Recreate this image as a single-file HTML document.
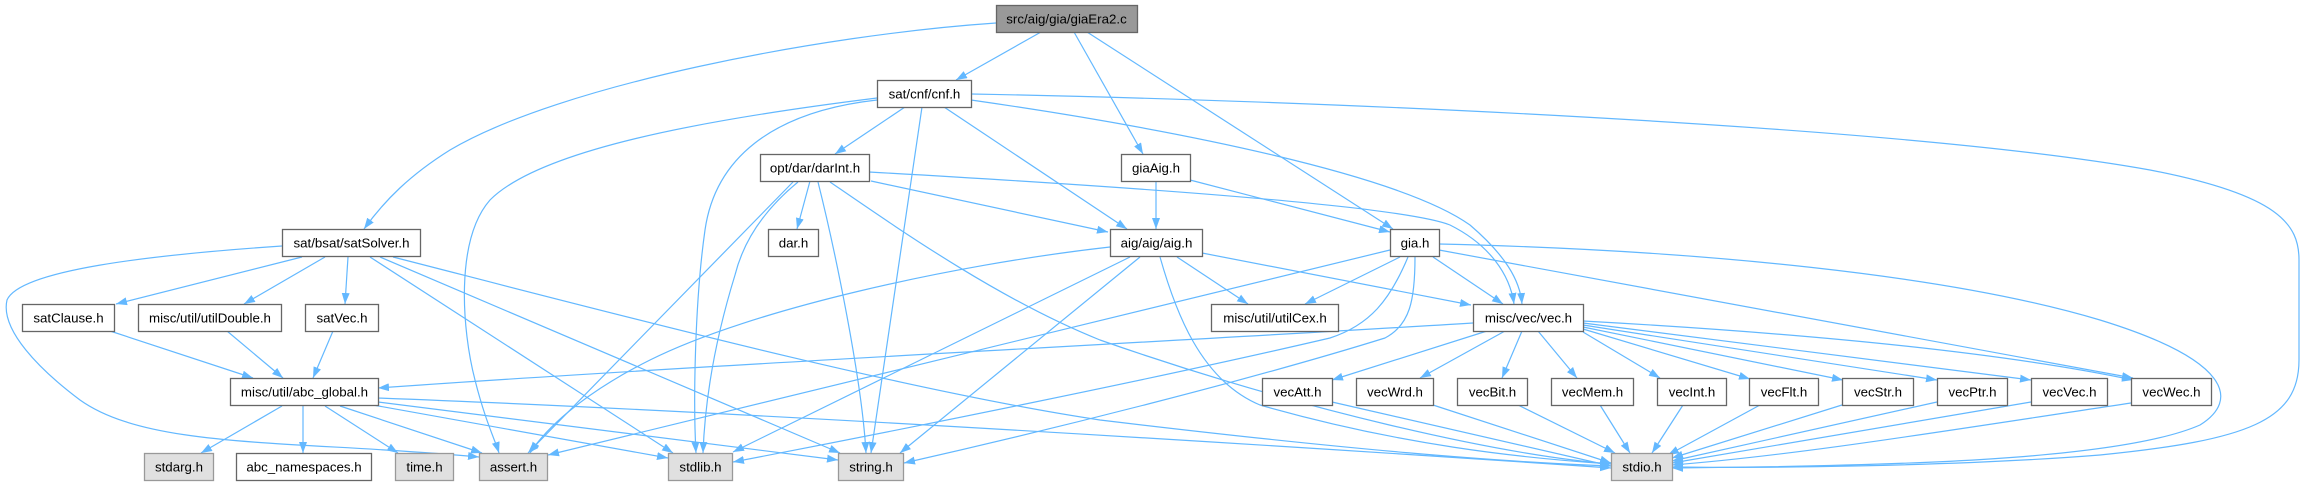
<!DOCTYPE html>
<html><head><meta charset="utf-8"><style>
html,body{margin:0;padding:0;background:#fff;}
svg{display:block;}
text{font-family:"Liberation Sans",Arial,sans-serif;font-size:13.3px;fill:#000;text-anchor:middle;}
.e{fill:none;stroke:#63b8ff;stroke-width:1.2;marker-end:url(#a);}
.n{fill:#fff;stroke:#666;stroke-width:1.3;}
.g{fill:#e0e0e0;stroke:#999;stroke-width:1.3;}
.r{fill:#999;stroke:#666;stroke-width:1.3;}
</style></head><body>
<svg width="2304" height="485" viewBox="0 0 2304 485" xmlns="http://www.w3.org/2000/svg">
<defs><marker id="a" markerUnits="userSpaceOnUse" markerWidth="12" markerHeight="9" refX="11" refY="4" orient="auto"><path d="M0,0 L11,4 L0,8 z" fill="#63b8ff"/></marker></defs>
<g>
<path class="e" d="M996,23 C820,35 560,85 450,150 C410,175 385,200 364,229"/>
<path class="e" d="M1041,32 L956,80"/>
<path class="e" d="M1074,32 L1143,154"/>
<path class="e" d="M1087,32 L1393,229"/>
<path class="e" d="M1156,181 L1156,229"/>
<path class="e" d="M1190,180 L1390,232"/>
<path class="e" d="M905,107 L835,154"/>
<path class="e" d="M944,107 L1127,229"/>
<path class="e" d="M971,100 C1180,130 1400,175 1470,225 C1505,255 1520,280 1522,304"/>
<path class="e" d="M971,94 C1300,100 1900,125 2150,170 C2280,195 2299,225 2299,260 L2299,360 C2299,420 2250,440 2100,455 C1950,467 1750,468 1672,467"/>
<path class="e" d="M877,98 C700,120 540,150 490,200 C455,240 462,330 475,380 C485,420 495,440 499,453"/>
<path class="e" d="M877,100 C770,112 715,160 705,230 C695,300 693,400 696,453"/>
<path class="e" d="M922,107 L871,453"/>
<path class="e" d="M810,181 L797,229"/>
<path class="e" d="M871,181 L1108,232"/>
<path class="e" d="M869,172 C1100,185 1400,205 1450,225 C1490,245 1510,275 1514,304"/>
<path class="e" d="M793,182 L528,453"/>
<path class="e" d="M798,182 C770,205 745,235 735,275 C715,340 705,400 703,453"/>
<path class="e" d="M818,182 C835,250 862,380 866,453"/>
<path class="e" d="M830,182 C900,230 1000,300 1100,340 C1300,410 1500,455 1611,464"/>
<path class="e" d="M1177,257 L1248,304"/>
<path class="e" d="M1202,253 L1471,305"/>
<path class="e" d="M1110,247 C950,265 750,310 650,360 C580,395 545,430 530,453"/>
<path class="e" d="M1130,257 L733,452"/>
<path class="e" d="M1140,257 L900,453"/>
<path class="e" d="M1160,257 C1175,310 1200,380 1260,405 C1400,445 1520,458 1611,464"/>
<path class="e" d="M1400,257 L1305,304"/>
<path class="e" d="M1433,257 L1503,304"/>
<path class="e" d="M1439,250 L2133,378"/>
<path class="e" d="M1439,244 C1700,250 1950,275 2100,320 C2230,360 2240,400 2200,425 C2120,460 1900,466 1672,468"/>
<path class="e" d="M1390,250 L548,455"/>
<path class="e" d="M1408,257 C1390,300 1370,325 1330,338 C1150,380 900,430 733,462"/>
<path class="e" d="M1415,257 C1415,300 1410,325 1385,338 C1250,380 1050,430 904,463"/>
<path class="e" d="M302,257 L116,304"/>
<path class="e" d="M325,257 L244,304"/>
<path class="e" d="M348,257 L345,304"/>
<path class="e" d="M282,246 C150,255 20,270 7,300 C0,330 40,370 80,400 C150,450 300,440 479,457"/>
<path class="e" d="M370,257 L673,453"/>
<path class="e" d="M380,257 L840,453"/>
<path class="e" d="M393,257 C600,310 900,390 1100,420 C1350,450 1500,462 1611,466"/>
<path class="e" d="M110,331 L253,378"/>
<path class="e" d="M227,331 L283,378"/>
<path class="e" d="M333,331 L313,378"/>
<path class="e" d="M282,406 L201,453"/>
<path class="e" d="M303,406 L303,453"/>
<path class="e" d="M325,406 L398,453"/>
<path class="e" d="M340,406 L482,453"/>
<path class="e" d="M373,405 L668,458"/>
<path class="e" d="M378,402 L838,460"/>
<path class="e" d="M378,398 C700,410 1200,440 1611,468"/>
<path class="e" d="M1473,323 C1200,340 700,365 378,388"/>
<path class="e" d="M1487,331 L1332,380"/>
<path class="e" d="M1505,331 L1420,378"/>
<path class="e" d="M1522,331 L1502,378"/>
<path class="e" d="M1538,331 L1577,378"/>
<path class="e" d="M1583,332 L1660,378"/>
<path class="e" d="M1583,329 L1750,379"/>
<path class="e" d="M1583,327 L1843,380"/>
<path class="e" d="M1583,325 L1937,380"/>
<path class="e" d="M1583,323 L2031,380"/>
<path class="e" d="M1583,321 C1800,333 2000,352 2133,380"/>
<path class="e" d="M1332,402 L1611,466"/>
<path class="e" d="M1433,405 L1611,463"/>
<path class="e" d="M1518,405 L1615,453"/>
<path class="e" d="M1600,405 L1630,453"/>
<path class="e" d="M1683,405 L1652,453"/>
<path class="e" d="M1760,405 L1668,455"/>
<path class="e" d="M1842,405 L1672,458"/>
<path class="e" d="M1937,402 L1672,461"/>
<path class="e" d="M2031,402 L1672,463"/>
<path class="e" d="M2131,403 C1950,430 1800,455 1672,465"/>
</g>
<g>
<rect class="r" x="996.5" y="5.5" width="141" height="27"/><text x="1066.5" y="23.5">src/aig/gia/giaEra2.c</text>
<rect class="n" x="877.5" y="80.5" width="94" height="27"/><text x="924.5" y="98.5">sat/cnf/cnf.h</text>
<rect class="n" x="760.5" y="154.5" width="109" height="27"/><text x="815" y="172.5">opt/dar/darInt.h</text>
<rect class="n" x="1121.5" y="154.5" width="69" height="27"/><text x="1156" y="172.5">giaAig.h</text>
<rect class="n" x="282.5" y="229.5" width="138" height="27"/><text x="351.5" y="247.5">sat/bsat/satSolver.h</text>
<rect class="n" x="768.5" y="229.5" width="50" height="27"/><text x="793.5" y="247.5">dar.h</text>
<rect class="n" x="1110.5" y="229.5" width="92" height="27"/><text x="1156.5" y="247.5">aig/aig/aig.h</text>
<rect class="n" x="1390.5" y="229.5" width="49" height="27"/><text x="1415" y="247.5">gia.h</text>
<rect class="n" x="22.5" y="304.5" width="92" height="27"/><text x="68.5" y="322.5">satClause.h</text>
<rect class="n" x="138.5" y="304.5" width="143" height="27"/><text x="210" y="322.5">misc/util/utilDouble.h</text>
<rect class="n" x="305.5" y="304.5" width="73" height="27"/><text x="342" y="322.5">satVec.h</text>
<rect class="n" x="1211.5" y="304.5" width="127" height="27"/><text x="1275" y="322.5">misc/util/utilCex.h</text>
<rect class="n" x="1473.5" y="304.5" width="110" height="27"/><text x="1528.5" y="322.5">misc/vec/vec.h</text>
<rect class="n" x="230.5" y="378.5" width="148" height="27"/><text x="304.5" y="396.5">misc/util/abc_global.h</text>
<rect class="n" x="1262.5" y="378.5" width="70" height="27"/><text x="1297.5" y="396.5">vecAtt.h</text>
<rect class="n" x="1356.5" y="378.5" width="77" height="27"/><text x="1395" y="396.5">vecWrd.h</text>
<rect class="n" x="1457.5" y="378.5" width="70" height="27"/><text x="1492.5" y="396.5">vecBit.h</text>
<rect class="n" x="1551.5" y="378.5" width="82" height="27"/><text x="1592.5" y="396.5">vecMem.h</text>
<rect class="n" x="1657.5" y="378.5" width="69" height="27"/><text x="1692" y="396.5">vecInt.h</text>
<rect class="n" x="1749.5" y="378.5" width="69" height="27"/><text x="1784" y="396.5">vecFlt.h</text>
<rect class="n" x="1842.5" y="378.5" width="71" height="27"/><text x="1878" y="396.5">vecStr.h</text>
<rect class="n" x="1937.5" y="378.5" width="70" height="27"/><text x="1972.5" y="396.5">vecPtr.h</text>
<rect class="n" x="2031.5" y="378.5" width="76" height="27"/><text x="2069.5" y="396.5">vecVec.h</text>
<rect class="n" x="2131.5" y="378.5" width="80" height="27"/><text x="2171.5" y="396.5">vecWec.h</text>
<rect class="g" x="144.5" y="453.5" width="69" height="27"/><text x="179" y="471.5">stdarg.h</text>
<rect class="n" x="236.5" y="453.5" width="135" height="27"/><text x="304" y="471.5">abc_namespaces.h</text>
<rect class="g" x="395.5" y="453.5" width="58" height="27"/><text x="424.5" y="471.5">time.h</text>
<rect class="g" x="479.5" y="453.5" width="68" height="27"/><text x="513.5" y="471.5">assert.h</text>
<rect class="g" x="668.5" y="453.5" width="64" height="27"/><text x="700.5" y="471.5">stdlib.h</text>
<rect class="g" x="838.5" y="453.5" width="65" height="27"/><text x="871" y="471.5">string.h</text>
<rect class="g" x="1611.5" y="453.5" width="61" height="27"/><text x="1642" y="471.5">stdio.h</text>
</g>
</svg>
</body></html>
